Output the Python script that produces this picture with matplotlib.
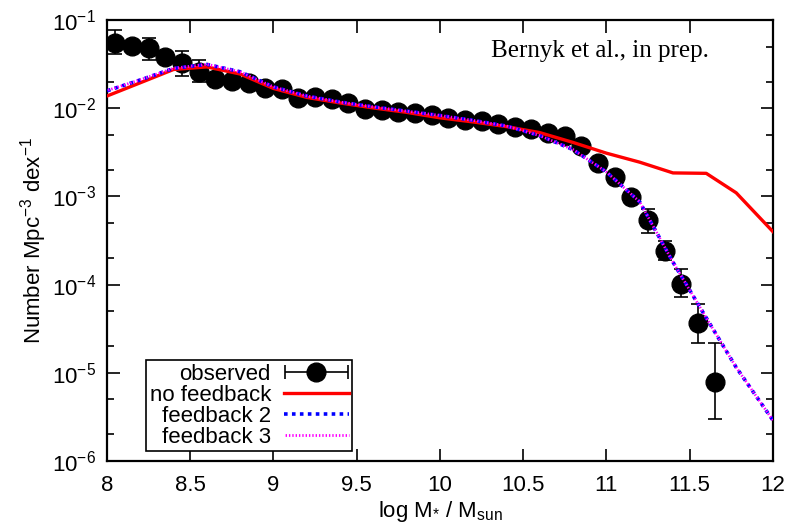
import numpy as np
import matplotlib
matplotlib.use('Agg')
import matplotlib.pyplot as plt
from matplotlib.ticker import FixedLocator, NullFormatter
from matplotlib.legend_handler import HandlerErrorbar

plt.rcParams['font.family'] = ['Liberation Sans', 'DejaVu Sans']
plt.rcParams['mathtext.fontset'] = 'custom'
plt.rcParams['mathtext.rm'] = 'Liberation Sans'
plt.rcParams['mathtext.it'] = 'Liberation Sans'
plt.rcParams['mathtext.default'] = 'regular'

# observed mass function
obs_x = [8.05, 8.15, 8.25, 8.35, 8.45, 8.55, 8.65, 8.75, 8.85, 8.95,
         9.05, 9.15, 9.25, 9.35, 9.45, 9.55, 9.65, 9.75, 9.85, 9.95,
         10.05, 10.15, 10.25, 10.35, 10.45, 10.55, 10.65, 10.75, 10.85, 10.95,
         11.05, 11.15, 11.25, 11.35, 11.45, 11.55, 11.65]
obs_phi = [0.0553, 0.0507, 0.0479, 0.0380, 0.0331, 0.0259, 0.0214, 0.0204, 0.0195, 0.0170,
           0.0164, 0.0132, 0.0135, 0.0126, 0.0114, 0.0098, 0.0096, 0.0091, 0.0088, 0.0084,
           0.0077, 0.0073, 0.0071, 0.0067, 0.0062, 0.0058, 0.0052, 0.0048, 0.0037, 0.00237,
           0.00167, 0.00098, 0.00054, 0.000242, 0.000102, 3.64e-5, 7.9e-6]
obs_hi = [0.077, 0.057, 0.062, 0.043, 0.045, 0.035, 0.0235, 0.0224, 0.0214, 0.0187,
          0.0180, 0.0145, 0.0148, 0.0138, 0.0125, 0.0108, 0.0105, 0.0100, 0.0097, 0.0092,
          0.0085, 0.0080, 0.0078, 0.0074, 0.0068, 0.0064, 0.0057, 0.0053, 0.0041, 0.0026,
          0.00184, 0.00108, 0.00072, 0.000316, 0.000149, 6.03e-5, 2.19e-5]
obs_lo = [0.041, 0.045, 0.035, 0.034, 0.023, 0.0197, 0.0195, 0.0185, 0.0177, 0.0155,
          0.0149, 0.0120, 0.0123, 0.0115, 0.0104, 0.0089, 0.0087, 0.0083, 0.0080, 0.0076,
          0.0070, 0.0066, 0.0065, 0.0061, 0.0056, 0.0053, 0.0047, 0.0044, 0.0034, 0.00216,
          0.00152, 0.00089, 0.00039, 0.000191, 7.18e-5, 2.19e-5, 2.97e-6]

# model curves
mod_x = [8.0, 8.2, 8.4, 8.6, 8.8, 9.0, 9.2, 9.4, 9.6, 9.8, 10.0,
         10.2, 10.4, 10.6, 10.8, 11.0, 11.2, 11.4, 11.6, 11.78, 12.0]
nofb = [0.0138, 0.0195, 0.0276, 0.0295, 0.0245, 0.0168, 0.0133, 0.0115, 0.0101, 0.0090, 0.0078,
        0.0070, 0.0062, 0.0053, 0.0041, 0.0031, 0.00245, 0.00185, 0.00183, 0.00110, 0.0004]
fb2 = [0.0158, 0.0210, 0.0284, 0.0315, 0.0260, 0.0175, 0.0138, 0.0118, 0.0104, 0.0093, 0.0083,
       0.0073, 0.0063, 0.0049, 0.0034, 0.0019, 0.00087, 0.00018, 4.2e-5, 1.15e-5, 2.9e-6]
fb3 = [0.0159, 0.0211, 0.0285, 0.0316, 0.0259, 0.0175, 0.0138, 0.0118, 0.0104, 0.0093, 0.0083,
       0.0073, 0.0063, 0.0049, 0.0034, 0.0019, 0.00087, 0.00018, 4.2e-5, 1.15e-5, 2.9e-6]

phi = np.array(obs_phi)
yerr = [phi - np.array(obs_lo), np.array(obs_hi) - phi]
FS = 16

fig = plt.figure(figsize=(7.87, 5.31), dpi=100)
ax = fig.add_axes([0.136, 0.132, 0.846, 0.830])

ax.errorbar(obs_x, obs_phi, yerr=yerr, fmt='o', color='black', ms=13.5,
            elinewidth=1.2, capsize=5, capthick=1.2, zorder=2)
ax.plot(mod_x, nofb, color='red', lw=2.4, zorder=3, label='no feedback')
ax.plot(mod_x, fb2, color='blue', lw=2.6, ls=(0, (1.0, 1.2)), zorder=4, label='feedback 2')
ax.plot(mod_x, fb3, color='magenta', lw=2.0, ls=(0.8, (0.5, 0.7)), zorder=5, label='feedback 3')

# legend proxy for observed (horizontal bar like gnuplot key)
proxy = ax.errorbar([np.nan], [np.nan], xerr=[1.0], fmt='o', color='black', ms=13.5,
                    elinewidth=1.2, capsize=5, capthick=1.2, label='observed')

ax.set_yscale('log')
ax.set_xlim(8, 12)
ax.set_ylim(1e-6, 1e-1)

ax.set_xticks([8, 8.5, 9, 9.5, 10, 10.5, 11, 11.5, 12])
ax.set_xticklabels(['8', '8.5', '9', '9.5', '10', '10.5', '11', '11.5', '12'])
major_y = [1e-6, 1e-5, 1e-4, 1e-3, 1e-2, 1e-1]
ax.yaxis.set_major_locator(FixedLocator(major_y))
ax.set_yticklabels([r'$10^{%d}$' % e for e in range(-6, 0)])
minor_y = [m * 10.0 ** e for e in range(-6, -1) for m in (2, 5)]
ax.yaxis.set_minor_locator(FixedLocator(minor_y))
ax.yaxis.set_minor_formatter(NullFormatter())
ax.xaxis.set_minor_locator(FixedLocator([]))

ax.tick_params(which='both', direction='in', top=True, right=True, labelsize=FS,
               width=1.2, color='black')
ax.tick_params(which='major', length=9)
ax.tick_params(axis='x', which='major', pad=10)
ax.tick_params(axis='y', which='major', pad=8)
ax.tick_params(which='minor', length=5)
for s in ax.spines.values():
    s.set_linewidth(1.6)

ax.set_xlabel(r'log M$_{*}$ / M$_{sun}$', fontsize=FS, labelpad=2)
ax.set_ylabel(r'Number Mpc$^{-3}$ dex$^{-1}$', fontsize=FS, labelpad=2)

ax.text(0.74, 0.916, 'Bernyk et al., in prep.', transform=ax.transAxes,
        family=['Liberation Serif', 'DejaVu Serif'], fontsize=18, ha='center', va='baseline')

handles, labels = ax.get_legend_handles_labels()
order = [labels.index(n) for n in ['observed', 'no feedback', 'feedback 2', 'feedback 3']]
leg = ax.legend([handles[i] for i in order], [labels[i] for i in order],
                loc='lower right', bbox_to_anchor=(0.368, 0.0227), markerfirst=False,
                fontsize=FS, handlelength=2.9, handletextpad=0.6, labelspacing=0.0,
                borderpad=0.15, borderaxespad=0.0, frameon=True, fancybox=False,
                edgecolor='black', framealpha=1,
                handler_map={proxy: HandlerErrorbar(xerr_size=1.4)})
leg.get_frame().set_linewidth(1.2)

fig.savefig('out.png', dpi=100)
